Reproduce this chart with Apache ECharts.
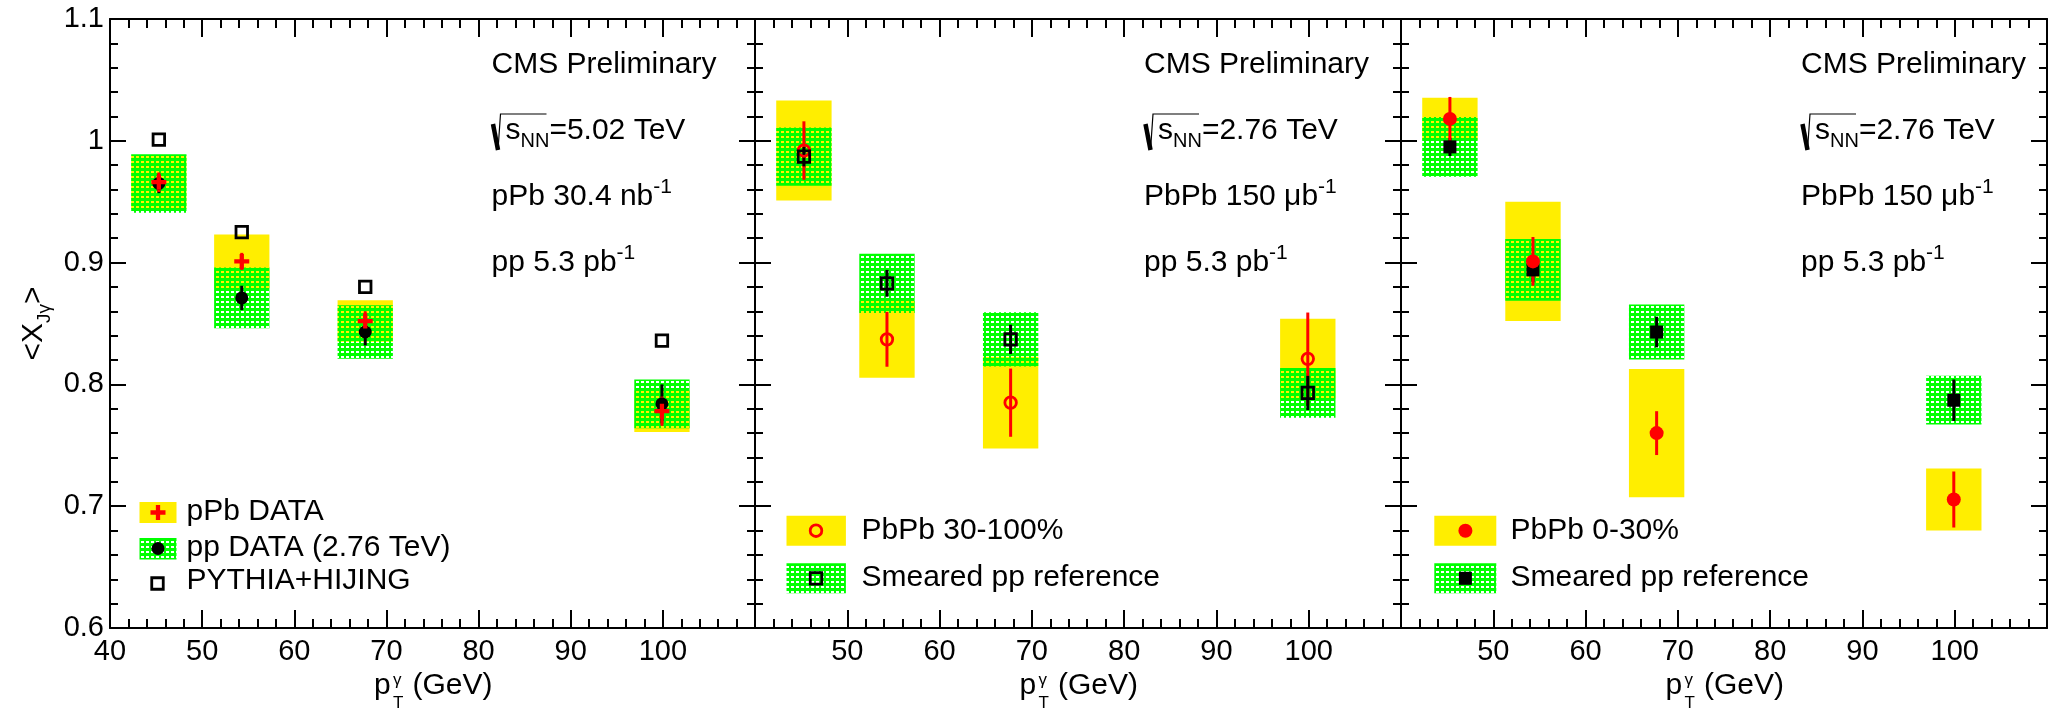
<!DOCTYPE html>
<html>
<head>
<meta charset="utf-8">
<script src="https://cdn.jsdelivr.net/npm/echarts@6/dist/echarts.min.js"></script>
<style>
  html, body { margin: 0; padding: 0; background: #ffffff; }
  #chart { width: 2050px; height: 709px; }
</style>
</head>
<body>
<div id="chart"></div>
<script>
// ---- data -------------------------------------------------------------
// mean photon pT of the four bins (GeV)
const ptBins = [45.3, 54.3, 67.7, 99.9];

// tick labels
const yTickValues = [0.6, 0.7, 0.8, 0.9, 1.0, 1.1];
const yTickLabels = ['0.6', '0.7', '0.8', '0.9', '1', '1.1'];
const xTickValuesLeft = [40, 50, 60, 70, 80, 90, 100];
const xTickValuesOther = [50, 60, 70, 80, 90, 100];

// panel 1: pPb 5.02 TeV data, pp 2.76 TeV data, PYTHIA+HIJING
const pPbMean = [0.966, 0.901, 0.852, 0.778];
const pPbStat = [0.008, 0.007, 0.008, 0.012];
const pPbSyst = [0.022, 0.022, 0.017, 0.017];
const ppMean = [0.965, 0.871, 0.843, 0.784];
const ppStat = [0.008, 0.010, 0.011, 0.016];
const ppSyst = [0.024, 0.025, 0.022, 0.020];
const pythiaHijing = [1.001, 0.925, 0.880, 0.836];

// panel 2: PbPb 30-100% and its smeared pp reference
const pbpbPeriphMean = [0.992, 0.837, 0.785, 0.821];
const pbpbPeriphStat = [0.024, 0.0225, 0.028, 0.038];
const pbpbPeriphSyst = [0.041, 0.0315, 0.0377, 0.0328];
const smearPeriphMean = [0.987, 0.883, 0.837, 0.793];
const smearPeriphStat = [0.008, 0.011, 0.012, 0.014];
const smearPeriphSyst = [0.024, 0.0243, 0.0223, 0.0204];

// panel 3: PbPb 0-30% and its smeared pp reference
const pbpbCentMean = [1.018, 0.901, 0.760, 0.7055];
const pbpbCentStat = [0.018, 0.020, 0.018, 0.023];
const pbpbCentSyst = [0.0174, 0.049, 0.0526, 0.0254];
const smearCentMean = [0.995, 0.894, 0.843, 0.787];
const smearCentStat = [0.0075, 0.010, 0.0126, 0.017];
const smearCentSyst = [0.0245, 0.0253, 0.0226, 0.020];

// ---- style ------------------------------------------------------------
const FONT = '"Liberation Sans", Arial, Helvetica, sans-serif';
const YELLOW = '#ffee00';
const GREEN = '#00ff00';
const RED = '#ff0000';
const BLACK = '#000000';
const BOX_HALF_WIDTH = 3;           // GeV, half width of systematic boxes

const GRID_TOP = 19, GRID_HEIGHT = 609;
const panels = [
  { left: 110, width: 645 },
  { left: 755, width: 646 },
  { left: 1401, width: 646 }
];

// checkered green fill with see-through holes
function makeCheckerPattern() {
  const c = document.createElement('canvas');
  c.width = 5; c.height = 5;
  const g = c.getContext('2d');
  g.fillStyle = GREEN;
  g.fillRect(0, 0, 5, 5);
  g.clearRect(1, 1, 3, 2);
  return { image: c, repeat: 'repeat' };
}
const CHECKER = makeCheckerPattern();

// ---- axes -------------------------------------------------------------
const xAxes = [], yAxes = [];
panels.forEach((p, gi) => {
  const shown = gi === 0 ? xTickValuesLeft : xTickValuesOther;
  const xBase = {
    gridIndex: gi, type: 'value', min: 40, max: 110, interval: 10,
    axisLine: { show: true, onZero: false, lineStyle: { color: BLACK, width: 2 } },
    axisTick: { show: true, inside: true, length: 18, lineStyle: { color: BLACK, width: 2 } },
    minorTick: { show: true, splitNumber: 5, length: 9, lineStyle: { color: BLACK, width: 2 } },
    splitLine: { show: false }, minorSplitLine: { show: false }
  };
  xAxes.push(Object.assign({}, xBase, {
    position: 'bottom',
    axisLabel: {
      show: true, margin: 9, color: BLACK, fontSize: 29, fontFamily: FONT,
      showMinLabel: true, showMaxLabel: true, hideOverlap: false,
      formatter: v => (shown.indexOf(Math.round(v)) >= 0 ? String(Math.round(v)) : '')
    }
  }));
  xAxes.push(Object.assign({}, xBase, { position: 'top', axisLabel: { show: false } }));

  const yBase = {
    gridIndex: gi, type: 'value', min: 0.6, max: 1.1, interval: 0.1,
    axisLine: { show: true, onZero: false, lineStyle: { color: BLACK, width: 2 } },
    axisTick: { show: true, inside: true, length: 16, lineStyle: { color: BLACK, width: 2 } },
    minorTick: { show: true, splitNumber: 5, length: 8, lineStyle: { color: BLACK, width: 2 } },
    splitLine: { show: false }, minorSplitLine: { show: false }
  };
  const left = Object.assign({}, yBase, {
    position: 'left',
    axisLabel: {
      show: gi === 0, margin: 6, color: BLACK, fontSize: 29, fontFamily: FONT,
      showMinLabel: true, showMaxLabel: true, hideOverlap: false,
      formatter: v => {
        const k = yTickValues.findIndex(t => Math.abs(t - v) < 1e-6);
        return k >= 0 ? yTickLabels[k] : '';
      }
    }
  });
  if (gi === 0) {
    left.name = '{m|<X}{s|Jγ}{m|>}';
    left.nameLocation = 'middle';
    left.nameRotate = 90;
    left.nameGap = 56;
    left.nameTextStyle = {
      color: BLACK, fontFamily: FONT,
      rich: {
        m: { fontSize: 30, lineHeight: 40, fontFamily: FONT, color: BLACK },
        s: { fontSize: 19, lineHeight: 20, verticalAlign: 'bottom', fontFamily: FONT, color: BLACK }
      }
    };
  }
  yAxes.push(left);
  yAxes.push(Object.assign({}, yBase, { position: 'right', axisLabel: { show: false } }));
});

// ---- series builders ----------------------------------------------------
function boxSeries(gi, mean, half, fill) {
  return {
    type: 'custom', xAxisIndex: gi * 2, yAxisIndex: gi * 2, clip: true, silent: true,
    data: ptBins.map((x, i) => [x, mean[i] - half[i], mean[i] + half[i]]),
    encode: { x: 0, y: [1, 2] },
    renderItem: (params, api) => {
      const x = api.value(0);
      const a = api.coord([x - BOX_HALF_WIDTH, api.value(2)]);
      const b = api.coord([x + BOX_HALF_WIDTH, api.value(1)]);
      return {
        type: 'rect',
        shape: { x: a[0], y: a[1], width: b[0] - a[0], height: b[1] - a[1] },
        style: { fill: fill }
      };
    }
  };
}

function errorSeries(gi, mean, err, color) {
  return {
    type: 'custom', xAxisIndex: gi * 2, yAxisIndex: gi * 2, clip: true, silent: true,
    data: ptBins.map((x, i) => [x, mean[i] - err[i], mean[i] + err[i]]),
    encode: { x: 0, y: [1, 2] },
    renderItem: (params, api) => {
      const lo = api.coord([api.value(0), api.value(1)]);
      const hi = api.coord([api.value(0), api.value(2)]);
      return {
        type: 'line',
        shape: { x1: lo[0], y1: lo[1], x2: hi[0], y2: hi[1] },
        style: { stroke: color, lineWidth: 3 }
      };
    }
  };
}

const PLUS = 'path://M5,0H9V5H14V9H9V14H5V9H0V5H5Z';
function markerSeries(gi, mean, symbol, size, itemStyle) {
  return {
    type: 'scatter', xAxisIndex: gi * 2, yAxisIndex: gi * 2, silent: true,
    data: ptBins.map((x, i) => [x, mean[i]]),
    symbol: symbol, symbolSize: size, itemStyle: Object.assign({ opacity: 1 }, itemStyle),
    emphasis: { disabled: true }
  };
}
const openStyle = c => ({ color: 'rgba(0,0,0,0)', borderColor: c, borderWidth: 2.8 });

const series = [
  // panel 1
  boxSeries(0, pPbMean, pPbSyst, YELLOW),
  boxSeries(0, ppMean, ppSyst, CHECKER),
  errorSeries(0, ppMean, ppStat, BLACK),
  markerSeries(0, ppMean, 'circle', 13, { color: BLACK }),
  markerSeries(0, pythiaHijing, 'rect', 11.5, openStyle(BLACK)),
  errorSeries(0, pPbMean, pPbStat, RED),
  markerSeries(0, pPbMean, PLUS, 15, { color: RED }),
  // panel 2
  boxSeries(1, pbpbPeriphMean, pbpbPeriphSyst, YELLOW),
  boxSeries(1, smearPeriphMean, smearPeriphSyst, CHECKER),
  errorSeries(1, pbpbPeriphMean, pbpbPeriphStat, RED),
  markerSeries(1, pbpbPeriphMean, 'circle', 11.5, openStyle(RED)),
  errorSeries(1, smearPeriphMean, smearPeriphStat, BLACK),
  markerSeries(1, smearPeriphMean, 'rect', 11.5, openStyle(BLACK)),
  // panel 3
  boxSeries(2, pbpbCentMean, pbpbCentSyst, YELLOW),
  boxSeries(2, smearCentMean, smearCentSyst, CHECKER),
  errorSeries(2, smearCentMean, smearCentStat, BLACK),
  markerSeries(2, smearCentMean, 'rect', 13, { color: BLACK }),
  errorSeries(2, pbpbCentMean, pbpbCentStat, RED),
  markerSeries(2, pbpbCentMean, 'circle', 14, { color: RED })
];

// ---- text and legend keys -----------------------------------------------
const graphic = [];
const richMain = { fontSize: 30, lineHeight: 40, fontFamily: FONT, fill: BLACK };
const richSup = { fontSize: 21, lineHeight: 32, verticalAlign: 'top', fontFamily: FONT, fill: BLACK };
const richSub = { fontSize: 20, lineHeight: 20, verticalAlign: 'bottom', fontFamily: FONT, fill: BLACK };

function addText(x, y, text, extra) {
  graphic.push({
    type: 'text', x: x, y: y, silent: true,
    style: Object.assign({
      text: text, fontSize: 30, fontFamily: FONT, fill: BLACK,
      align: 'left', verticalAlign: 'middle',
      rich: { m: richMain, u: richSup, d: richSub }
    }, extra || {})
  });
}

// sqrt(s_NN) sign built from two strokes and an overbar
function addSqrtLine(x0, y, energy) {
  graphic.push({ type: 'polyline', silent: true,
    shape: { points: [[x0 + 1.5, y - 7], [x0 + 6.5, y + 19]] },
    style: { stroke: BLACK, lineWidth: 4.5, fill: null } });
  graphic.push({ type: 'polyline', silent: true,
    shape: { points: [[x0 + 6.5, y + 19], [x0 + 9, y - 17], [x0 + 55, y - 17]] },
    style: { stroke: BLACK, lineWidth: 1.2, fill: null } });
  addText(x0 + 14, y, '{m|s}{d|NN}{m|=' + energy + '}');
}

const notes = [
  { x: 491.5, energy: '5.02 TeV', lumi: '{m|pPb 30.4 nb}{u|-1}' },
  { x: 1144, energy: '2.76 TeV', lumi: '{m|PbPb 150 μb}{u|-1}' },
  { x: 1801, energy: '2.76 TeV', lumi: '{m|PbPb 150 μb}{u|-1}' }
];
notes.forEach(n => {
  addText(n.x, 65, 'CMS Preliminary');
  addSqrtLine(n.x, 131, n.energy);
  addText(n.x, 197, n.lumi);
  addText(n.x, 263, '{m|pp 5.3 pb}{u|-1}');
});

// x-axis titles: p_T^gamma (GeV), centred under each panel
panels.forEach(p => {
  const x0 = p.left + p.width / 2 - 58.5;
  addText(x0, 686, 'p');
  addText(x0 + 19, 680, 'γ', { fontSize: 17 });
  addText(x0 + 19, 703, 'T', { fontSize: 17 });
  addText(x0 + 38.5, 686, '(GeV)');
});

// legend keys
function keyBox(x, y, w, h, fill) {
  graphic.push({ type: 'rect', silent: true, shape: { x: x, y: y, width: w, height: h }, style: { fill: fill } });
}
function keyPlus(cx, cy, s) {
  const a = s / 14;
  const pts = [[5,0],[9,0],[9,5],[14,5],[14,9],[9,9],[9,14],[5,14],[5,9],[0,9],[0,5],[5,5]]
    .map(q => [cx - s / 2 + q[0] * a, cy - s / 2 + q[1] * a]);
  graphic.push({ type: 'polygon', silent: true, shape: { points: pts }, style: { fill: RED } });
}
function keyCircle(cx, cy, r, fill, stroke) {
  graphic.push({ type: 'circle', silent: true, shape: { cx: cx, cy: cy, r: r },
    style: { fill: fill || null, stroke: stroke || null, lineWidth: 2.8 } });
}
function keySquare(cx, cy, s, fill, stroke) {
  graphic.push({ type: 'rect', silent: true, shape: { x: cx - s / 2, y: cy - s / 2, width: s, height: s },
    style: { fill: fill || null, stroke: stroke || null, lineWidth: 2.8 } });
}

// panel 1 legend
keyBox(139.5, 502, 37, 21, YELLOW);
keyPlus(158, 512.5, 15);
addText(186.5, 512, 'pPb DATA');
keyBox(139.5, 538, 37, 21.5, CHECKER);
keyCircle(158, 548.5, 6.5, BLACK);
addText(186.5, 547.5, 'pp DATA (2.76 TeV)');
keySquare(157.5, 583.5, 11.5, null, BLACK);
addText(186.5, 581, 'PYTHIA+HIJING');

// panel 2 legend
keyBox(786.5, 515.7, 59.4, 30, YELLOW);
keyCircle(816, 530.7, 5.8, null, RED);
addText(861.5, 531, 'PbPb 30-100%');
keyBox(786.5, 563.3, 59.4, 30, CHECKER);
keySquare(816, 578.3, 11.5, null, BLACK);
addText(861.5, 578, 'Smeared pp reference');

// panel 3 legend
keyBox(1434.3, 515.7, 62, 30, YELLOW);
keyCircle(1465.4, 530.7, 7, RED);
addText(1510.5, 531, 'PbPb 0-30%');
keyBox(1434.3, 563.3, 62, 30, CHECKER);
keySquare(1465.4, 578.3, 13, BLACK);
addText(1510.5, 578, 'Smeared pp reference');

// ---- chart ----------------------------------------------------------------
const chart = echarts.init(document.getElementById('chart'), null, { renderer: 'canvas' });
chart.setOption({
  animation: false,
  backgroundColor: '#ffffff',
  grid: panels.map(p => ({ left: p.left, top: GRID_TOP, width: p.width, height: GRID_HEIGHT, containLabel: false })),
  xAxis: xAxes,
  yAxis: yAxes,
  series: series,
  graphic: graphic
});
</script>
</body>
</html>
